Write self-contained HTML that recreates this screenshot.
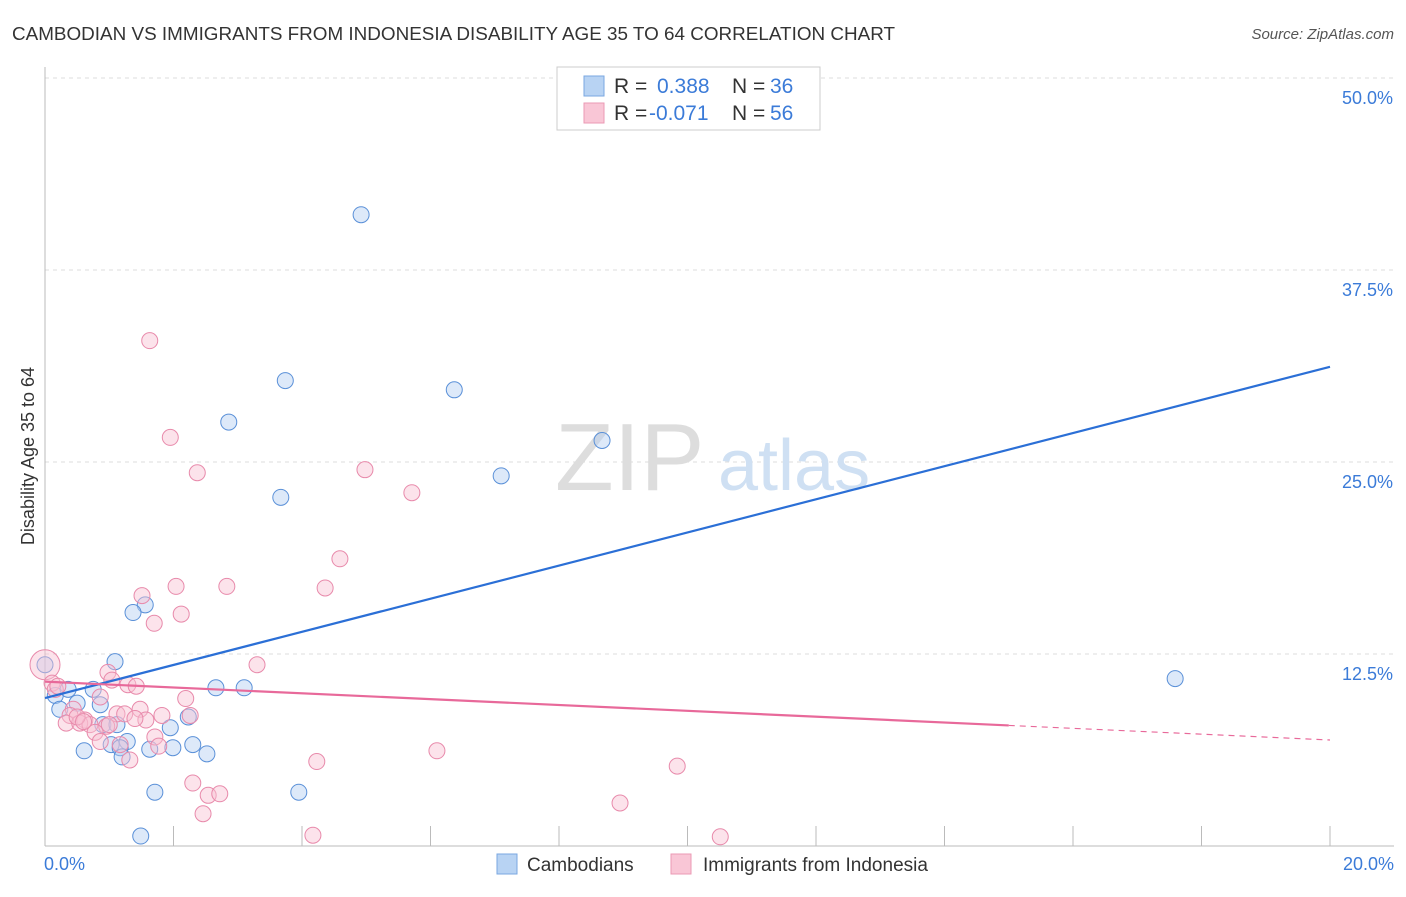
<!DOCTYPE html>
<html><head><meta charset="utf-8"><style>
body{margin:0;background:#fff;font-family:"Liberation Sans",sans-serif;}
svg text{font-family:"Liberation Sans",sans-serif;}
</style></head><body>
<svg width="1406" height="892" viewBox="0 0 1406 892">
<text x="12" y="40" font-size="18" fill="#333" textLength="883" lengthAdjust="spacingAndGlyphs">CAMBODIAN VS IMMIGRANTS FROM INDONESIA DISABILITY AGE 35 TO 64 CORRELATION CHART</text>
<text x="1394" y="39" font-size="15" fill="#555" font-style="italic" text-anchor="end">Source: ZipAtlas.com</text>
<g id="grid"></g>
<g id="axes"></g>
<text x="555" y="490" font-size="96" fill="#ddd" font-family="Liberation Serif">ZIP</text>
<text x="718" y="490" font-size="72" fill="#cfe0f3">atlas</text>
<text transform="translate(34,456) rotate(-90)" font-size="18" fill="#333" text-anchor="middle">Disability Age 35 to 64</text>
<g id="pts"></g>
<g id="lines"></g>
<g>
<rect x="557" y="67" width="263" height="63" fill="#fff" stroke="#ccc"/>
<rect x="584" y="76" width="20" height="20" fill="#b8d3f3" stroke="#7aa7e0"/>
<rect x="584" y="103" width="20" height="20" fill="#f9c6d6" stroke="#eb9ab4"/>
<text x="614" y="93" font-size="21" fill="#333">R = </text><text x="657" y="93" font-size="21" fill="#3b7bd8">0.388</text>
<text x="732" y="93" font-size="21" fill="#333">N = </text><text x="770" y="93" font-size="21" fill="#3b7bd8">36</text>
<text x="614" y="120" font-size="21" fill="#333">R = </text><text x="649" y="120" font-size="21" fill="#3b7bd8">-0.071</text>
<text x="732" y="120" font-size="21" fill="#333">N = </text><text x="770" y="120" font-size="21" fill="#3b7bd8">56</text>
</g>
<g>
<rect x="497" y="854" width="20" height="20" fill="#b8d3f3" stroke="#7aa7e0"/>
<text x="527" y="871" font-size="19" fill="#333">Cambodians</text>
<rect x="671" y="854" width="20" height="20" fill="#f9c6d6" stroke="#eb9ab4"/>
<text x="703" y="871" font-size="19" fill="#333">Immigrants from Indonesia</text>
</g>
</svg>
<script>
const yTicks=[12.5,25,37.5,50];
const yTickLabels=["12.5%","25.0%","37.5%","50.0%"];
const xTickLabels=["0.0%","20.0%"];
const blueX=[4.92,3.74,6.37,2.86,8.67,7.10,3.67,1.56,1.37,1.09,0,17.59,2.66,3.10,0.75,0.16,0.50,0.86,0.23,2.23,1.95,0.90,1.12,1.28,1.03,2.30,1.17,0.61,1.63,1.99,2.52,1.20,1.71,3.95,1.49,0.36];
const blueY=[41.1,30.3,29.7,27.6,26.4,24.1,22.7,15.7,15.2,12.0,11.8,10.9,10.3,10.3,10.2,9.8,9.3,9.2,8.9,8.4,7.7,7.9,7.9,6.8,6.6,6.6,6.4,6.2,6.3,6.4,6.0,5.8,3.5,3.5,0.65,10.2];
const pinkX=[1.63,1.95,2.37,4.98,5.71,4.59,2.04,2.83,4.36,1.51,2.12,1.70,0,3.30,0.98,1.04,0.11,1.29,1.42,0.16,2.19,0.86,0.44,1.48,1.12,1.24,1.82,2.26,0.39,0.62,1.57,0.33,0.54,0.70,0.96,0.78,1.71,0.86,1.77,1.17,6.10,1.32,4.23,9.84,2.30,2.54,2.72,8.95,2.46,4.17,10.51,0.2,0.5,1.0,1.4,0.6];
const pinkY=[32.9,26.6,24.3,24.5,23.0,18.7,16.9,16.9,16.8,16.3,15.1,14.5,11.8,11.8,11.3,10.8,10.6,10.5,10.4,10.2,9.6,9.7,8.9,8.9,8.6,8.6,8.5,8.5,8.5,8.2,8.2,8.0,8.0,7.9,7.8,7.4,7.1,6.8,6.5,6.6,6.2,5.6,5.5,5.2,4.1,3.3,3.4,2.8,2.1,0.7,0.6,10.4,8.4,7.9,8.3,8.1];
const blueLine=[9.63,31.2];
const pinkLine=[10.7,6.9];
const pinkSolidEnd=15.0;
const NS="http://www.w3.org/2000/svg";
const X=v=>45+v/20*1285, Y=v=>846-v/12.5*192;
function mk(t,a,p){const e=document.createElementNS(NS,t);for(const k in a)e.setAttribute(k,a[k]);p.appendChild(e);return e;}
const grid=document.getElementById('grid'),axes=document.getElementById('axes');
yTicks.forEach((t,i)=>{
 const l=mk('line',{x1:45,x2:1394,y1:Y(t),y2:Y(t),stroke:'#ddd','stroke-dasharray':'4,4'},grid);
 
 
 const tx=mk('text',{x:1393,y:Y(t)+26,'font-size':18,fill:'#3b7bd8','text-anchor':'end'},axes);
 tx.textContent=yTickLabels[i];
 
 
});
mk('line',{x1:45,x2:45,y1:67,y2:846,stroke:'#bbb'},axes);
mk('line',{x1:45,x2:1394,y1:846,y2:846,stroke:'#bbb'},axes);
for(let i=0;i<=10;i++){const l=mk('line',{x1:X(i*2),x2:X(i*2),y1:826,y2:846,stroke:'#bbb'},axes);
 
 }
[[0,44,'start'],[20,1394,'end']].forEach((d,i)=>{const t=mk('text',{x:d[1],y:870,'font-size':18,fill:'#3b7bd8','text-anchor':d[2]},axes);t.textContent=xTickLabels[i];
 
 });
const pts=document.getElementById('pts');
function dots(xs,ys,fill,stroke,name,big){xs.forEach((x,i)=>{const r=(big&&x===0)?15:8;
 const c=mk('circle',{cx:X(x),cy:Y(ys[i]),r:r,fill:fill,'fill-opacity':0.45,stroke:stroke,'stroke-width':1},pts);
 
 });}
dots(blueX,blueY,'#b3cff2','#5a90d8','cambodian-point',false);
dots(pinkX,pinkY,'#f9c0d2','#e88aab','indonesia-point',true);
const lines=document.getElementById('lines');
const bl=mk('line',{x1:X(0),y1:Y(blueLine[0]),x2:X(20),y2:Y(blueLine[1]),stroke:'#2b6fd6','stroke-width':2.2},lines);


const pv=x=>pinkLine[0]+(pinkLine[1]-pinkLine[0])*x/20;
const pl=mk('line',{x1:X(0),y1:Y(pv(0)),x2:X(pinkSolidEnd),y2:Y(pv(pinkSolidEnd)),stroke:'#e8699a','stroke-width':2.2},lines);


const pd=mk('line',{x1:X(pinkSolidEnd),y1:Y(pv(pinkSolidEnd)),x2:X(20),y2:Y(pv(20)),stroke:'#e8699a','stroke-width':1.2,'stroke-dasharray':'6,5'},lines);


</script>
</body></html>
